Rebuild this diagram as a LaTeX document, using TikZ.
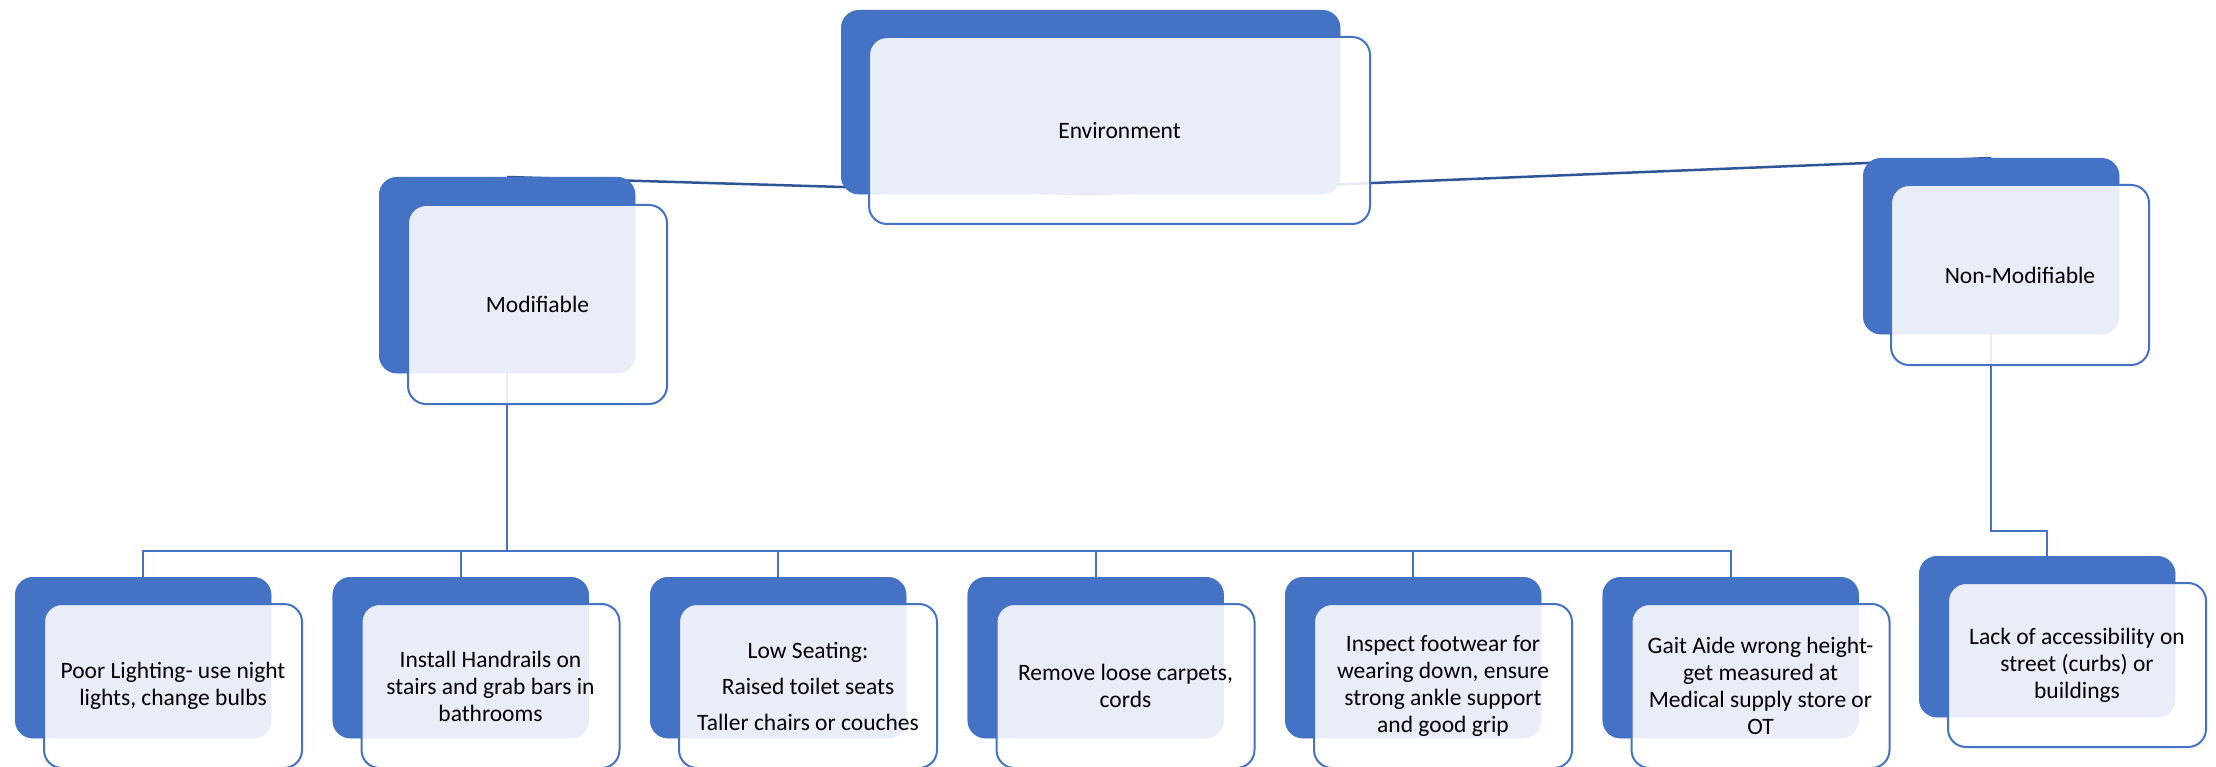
\documentclass[tikz,border=0pt]{standalone}
\usepackage{fontspec}
\setmainfont{Carlito}
\definecolor{myblue}{HTML}{4472C4}
\definecolor{darkline}{HTML}{2F5597}
\tikzset{
  backbox/.style={fill=myblue, rounded corners=18pt, anchor=north west, inner sep=0pt, minimum width=256pt, minimum height=161pt},
  frontbox/.style={fill=white, fill opacity=0.88, text opacity=1, draw=myblue, line width=2pt, rounded corners=18pt, anchor=north west, inner sep=0pt, align=center, minimum width=258pt, minimum height=164pt, font=\fontsize{23.5}{27}\selectfont},
  topline/.style={draw=darkline, line width=2.5pt},
  treeline/.style={draw=myblue, line width=2.2pt},
}
\begin{document}
\begin{tikzpicture}[x=1pt,y=-1pt]
\fill[white] (0,0) rectangle (2216,767);
\useasboundingbox (0,0) rectangle (2216,767);
% back boxes (named for connectors)
\path (841,10) node[backbox, minimum width=499pt, minimum height=184pt] (env) {};
\path (379,177) node[backbox, minimum height=196pt] (mod) {};
\path (1863,158) node[backbox, minimum height=176pt] (nonmod) {};
\path (15,577) node[backbox] (b1) {};
\path (332.5,577) node[backbox] (b2) {};
\path (650,577) node[backbox] (b3) {};
\path (967.5,577) node[backbox] (b4) {};
\path (1285,577) node[backbox] (b5) {};
\path (1602.5,577) node[backbox] (b6) {};
\path (1919,556) node[backbox] (b7) {};
% connectors
\coordinate (bus) at (0,551);
\coordinate (nbus) at (0,531);
\draw[topline] (env.south) -- (mod.north);
\draw[topline] (env.south) -- (nonmod.north);
\draw[treeline] (mod.south) -- (mod.south |- bus);
\draw[treeline] (b1.north) -- (b1.north |- bus) -- (b6.north |- bus) -- (b6.north);
\draw[treeline] (b2.north) -- (b2.north |- bus);
\draw[treeline] (b3.north) -- (b3.north |- bus);
\draw[treeline] (b4.north) -- (b4.north |- bus);
\draw[treeline] (b5.north) -- (b5.north |- bus);
\draw[treeline] (nonmod.south) -- (nonmod.south |- nbus) -| (b7.north);
% redraw back boxes on top of connectors
\foreach \n in {env,mod,nonmod,b1,b2,b3,b4,b5,b6,b7}{
  \fill[myblue, rounded corners=18pt] (\n.north west) rectangle (\n.south east);
}
% front boxes
\path (868,36) node[frontbox, minimum width=501pt, minimum height=187pt] (envF) {Environment};
\path (407,204) node[frontbox, minimum width=259pt, minimum height=199pt] (modF) {Modifiable};
\path (1890,184) node[frontbox, minimum height=180pt] (nonmodF) {Non-Modifiable};
\path (43,603) node[frontbox] (f1) {Poor Lighting- use night\\lights, change bulbs};
\path (360.5,603) node[frontbox] (f2) {Install Handrails on\\stairs and grab bars in\\bathrooms};
\path (678,603) node[frontbox] (f3) {Low Seating:\\[9pt]Raised toilet seats\\[9pt]Taller chairs or couches};
\path (995.5,603) node[frontbox] (f4) {Remove loose carpets,\\cords};
\path (1313,603) node[frontbox] (f5) {Inspect footwear for\\wearing down, ensure\\strong ankle support\\and good grip};
\path (1630.5,603) node[frontbox] (f6) {Gait Aide wrong height-\\get measured at\\Medical supply store or\\OT};
\path (1947,582) node[frontbox] (f7) {Lack of accessibility on\\street (curbs) or\\buildings};
\end{tikzpicture}
\end{document}
